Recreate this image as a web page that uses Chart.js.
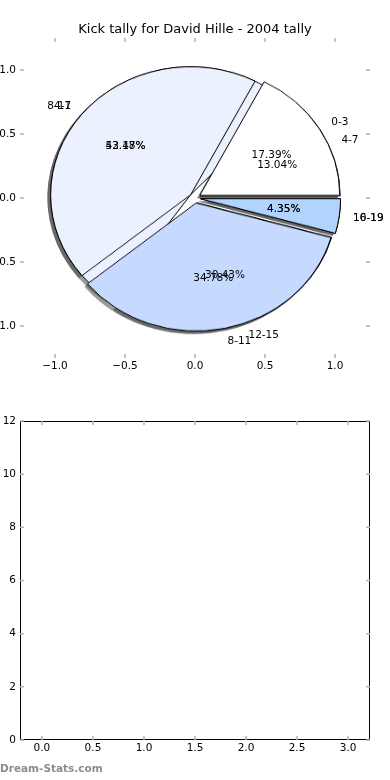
<!DOCTYPE html>
<html>
<head>
<meta charset="utf-8">
<script src="https://cdn.jsdelivr.net/npm/chart.js@4.4.0/dist/chart.umd.min.js"></script>
<style>
  html, body { margin: 0; padding: 0; background: #fff; }
  #page { position: relative; width: 390px; height: 780px; overflow: hidden; }
  canvas { position: absolute; }
  #pieB { z-index: 1; }
  #pieA { z-index: 2; }
  #axesTop { left: -10px; top: 0; z-index: 3; }
  #bottomChart { left: -10px; top: 400px; }
  #mark { position: absolute; left: 0; top: 762px; font: bold 10.5px "DejaVu Sans", sans-serif; color: #8c8c8c; }
</style>
</head>
<body>
<div id="page">
  <canvas id="pieB"></canvas>
  <canvas id="pieA"></canvas>
  <canvas id="axesTop" width="400" height="385"></canvas>
  <canvas id="bottomChart" width="400" height="370"></canvas>
  <div id="mark">Dream-Stats.com</div>
</div>
<script>
const TITLE = 'Kick tally for David Hille - 2004 tally'

// two pies drawn over each other, counter-clockwise from 3 o'clock
const labelsA = ['0-3', '4-7', '8-11', '16-19']
const valuesA = [4, 10, 8, 1]
const labelsB = ['4-7', '8-11', '12-15', '10-19']
const valuesB = [3, 12, 7, 1]
const sliceColors = ['#ffffff', '#ebf1fe', '#c6d9fe', '#b3d3ff']
const EXPLODE = 0.04

const pieTicks = [-1, -0.5, 0, 0.5, 1]
const barXTicks = [0, 0.5, 1, 1.5, 2, 2.5, 3]
const barYTicks = [0, 2, 4, 6, 8, 10, 12]
const barValues = [] // second panel is empty

Chart.defaults.font.family = '"DejaVu Sans", sans-serif'
Chart.defaults.font.size = 10.5
Chart.defaults.color = '#000'

const fmt1 = (v) => v.toFixed(1).replace('-', '\u2212')

// matplotlib style tick marks pointing into the axes box
const innerTicks = {
  id: 'innerTicks',
  afterDraw(chart, args, opts) {
    const { ctx, chartArea: a } = chart
    const { x, y } = chart.scales
    ctx.save()
    if (opts.frame) {
      ctx.strokeStyle = '#000'
      ctx.lineWidth = 1
      ctx.strokeRect(Math.round(a.left) + 0.5, Math.round(a.top) + 0.5,
        Math.round(a.right - a.left) - 1, Math.round(a.bottom - a.top) - 1)
    }
    ctx.strokeStyle = '#b4b4b4'
    ctx.lineWidth = 1.5
    ctx.beginPath()
    x.ticks.forEach(t => {
      const px = x.getPixelForValue(t.value)
      ctx.moveTo(px, a.top); ctx.lineTo(px, a.top + 4)
      ctx.moveTo(px, a.bottom); ctx.lineTo(px, a.bottom - 4)
    })
    y.ticks.forEach(t => {
      const py = y.getPixelForValue(t.value)
      ctx.moveTo(a.left, py); ctx.lineTo(a.left + 4, py)
      ctx.moveTo(a.right, py); ctx.lineTo(a.right - 4, py)
    })
    ctx.stroke()
    ctx.restore()
  }
}

// title centred over the axes box, not the whole canvas
const axesTitle = {
  id: 'axesTitle',
  afterDraw(chart, args, opts) {
    const { ctx, chartArea: a } = chart
    ctx.save()
    ctx.fillStyle = '#000'
    ctx.font = '13px "DejaVu Sans", sans-serif'
    ctx.textAlign = 'center'
    ctx.textBaseline = 'middle'
    ctx.fillText(opts.text, (a.left + a.right) / 2, a.top - 8)
    ctx.restore()
  }
}

// slice names at 1.1 and percentages at 0.6 of the radius
const pieText = {
  id: 'pieText',
  afterDraw(chart) {
    const { ctx } = chart
    const { x, y } = chart.scales
    ctx.save()
    ctx.fillStyle = '#000'
    ctx.font = '10.5px "DejaVu Sans", sans-serif'
    ctx.textBaseline = 'middle'
    ;[[labelsA, valuesA], [labelsB, valuesB]].forEach(([labels, values]) => {
      const total = values.reduce((s, v) => s + v, 0)
      let cum = 0
      values.forEach((v, i) => {
        const th = 2 * Math.PI * (cum + v / 2) / total
        cum += v
        const ex = EXPLODE * Math.cos(th)
        const ey = EXPLODE * Math.sin(th)
        const lx = ex + 1.1 * Math.cos(th)
        ctx.textAlign = lx > 0 ? 'left' : 'right'
        ctx.fillText(labels[i], x.getPixelForValue(lx), y.getPixelForValue(ey + 1.1 * Math.sin(th)))
        ctx.textAlign = 'center'
        ctx.fillText((100 * v / total).toFixed(2) + '%',
          x.getPixelForValue(ex + 0.6 * Math.cos(th)), y.getPixelForValue(ey + 0.6 * Math.sin(th)))
      })
    })
    ctx.restore()
  }
}

// push every wedge out from the centre like matplotlib's explode
const explode = {
  id: 'explode',
  afterDatasetUpdate(chart, args, opts) {
    chart.getDatasetMeta(args.index).data.forEach(arc => {
      const mid = (arc.startAngle + arc.endAngle) / 2
      arc.x += Math.cos(mid) * opts.dist
      arc.y += Math.sin(mid) * opts.dist
    })
  }
}

// shadows of all wedges (both pies) go under everything, on the lowest canvas
const shadowSources = []
const pieShadow = {
  id: 'pieShadow',
  beforeDatasetsDraw(chart, args, opts) {
    const ctx = chart.ctx
    ctx.save()
    ctx.fillStyle = 'rgba(55,55,55,0.5)'
    shadowSources.concat([chart]).forEach(c => {
      c.getDatasetMeta(0).data.forEach(arc => {
        const sx = arc.x + opts.dx
        const sy = arc.y + opts.dy
        ctx.beginPath()
        ctx.moveTo(sx, sy)
        ctx.arc(sx, sy, arc.outerRadius + 0.5, arc.startAngle, arc.endAngle)
        ctx.closePath()
        ctx.fill()
      })
    })
    ctx.restore()
  }
}

const axesChart = new Chart(document.getElementById('axesTop'), {
  type: 'scatter',
  data: { datasets: [{ data: [] }] },
  options: {
    responsive: false,
    animation: false,
    events: [],
    layout: { padding: { top: 38, right: 20 } },
    plugins: {
      legend: { display: false },
      tooltip: { enabled: false },
      axesTitle: { text: TITLE },
      innerTicks: { frame: false }
    },
    scales: {
      x: {
        type: 'linear', min: -1.25, max: 1.25,
        afterBuildTicks: s => { s.ticks = pieTicks.map(v => ({ value: v })) },
        afterFit: s => { s.height = 27 },
        grid: { display: false, drawTicks: false },
        border: { display: false },
        ticks: { padding: 2, callback: fmt1 }
      },
      y: {
        type: 'linear', min: -1.25, max: 1.25,
        afterBuildTicks: s => { s.ticks = pieTicks.map(v => ({ value: v })) },
        afterFit: s => { s.width = 30 },
        grid: { display: false, drawTicks: false },
        border: { display: false },
        ticks: { padding: 4, callback: fmt1 }
      }
    }
  },
  plugins: [innerTicks, axesTitle, pieText]
})

function makePie(id, labels, values, withShadow) {
  const { x, y } = axesChart.scales
  const cx = x.getPixelForValue(0) - 10 // axes canvas sits 10px left of the page
  const cy = y.getPixelForValue(0)
  const rx = x.getPixelForValue(1) - x.getPixelForValue(0)
  const ry = y.getPixelForValue(0) - y.getPixelForValue(1)
  const size = Math.ceil(2 * rx + 40)
  const canvas = document.getElementById(id)
  canvas.width = size
  canvas.height = size
  canvas.style.left = (cx - size / 2) + 'px'
  canvas.style.top = (cy - size / 2) + 'px'
  canvas.style.transform = `scaleY(${ry / rx})`
  // chart.js goes clockwise, so reverse and start at 3 o'clock
  const rev = a => a.slice().reverse()
  return new Chart(canvas, {
    type: 'pie',
    data: {
      labels: rev(labels),
      datasets: [{
        data: rev(values),
        backgroundColor: rev(sliceColors.slice(0, values.length)),
        borderColor: '#000',
        borderWidth: 1,
        hoverOffset: 0
      }]
    },
    options: {
      responsive: false,
      animation: false,
      events: [],
      rotation: 90,
      radius: rx,
      plugins: {
        legend: { display: false },
        tooltip: { enabled: false },
        explode: { dist: EXPLODE * rx },
        pieShadow: { dx: -0.02 * rx, dy: 0.02 * rx }
      }
    },
    plugins: withShadow ? [explode, pieShadow] : [explode]
  })
}

shadowSources.push(makePie('pieA', labelsA, valuesA, false))
makePie('pieB', labelsB, valuesB, true)

new Chart(document.getElementById('bottomChart'), {
  type: 'scatter',
  data: { datasets: [{ data: barValues }] },
  options: {
    responsive: false,
    animation: false,
    events: [],
    layout: { padding: { top: 21, right: 20 } },
    plugins: {
      legend: { display: false },
      tooltip: { enabled: false },
      innerTicks: { frame: true }
    },
    scales: {
      x: {
        type: 'linear', min: -0.215, max: 3.215,
        afterBuildTicks: s => { s.ticks = barXTicks.map(v => ({ value: v })) },
        afterFit: s => { s.height = 30 },
        grid: { display: false, drawTicks: false },
        border: { display: false },
        ticks: { padding: 2, callback: fmt1 }
      },
      y: {
        type: 'linear', min: 0, max: 12,
        afterBuildTicks: s => { s.ticks = barYTicks.map(v => ({ value: v })) },
        afterFit: s => { s.width = 30 },
        grid: { display: false, drawTicks: false },
        border: { display: false },
        ticks: { padding: 4, callback: v => String(v) }
      }
    }
  },
  plugins: [innerTicks]
})
</script>
</body>
</html>
